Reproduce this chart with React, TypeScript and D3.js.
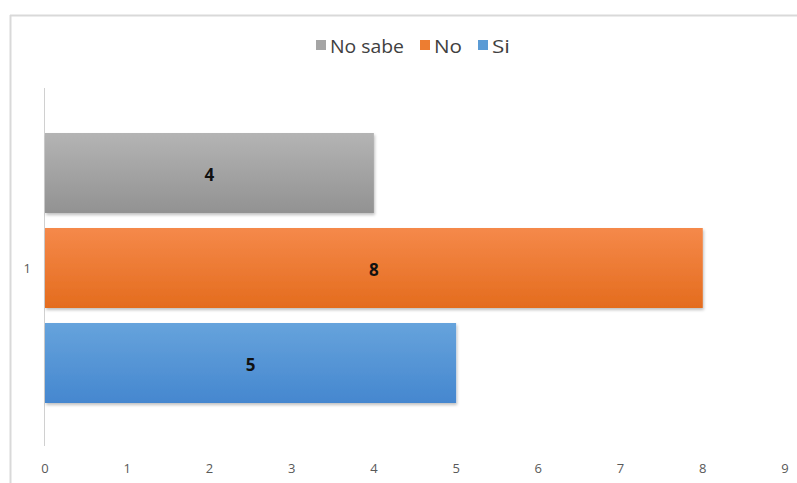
import React from "react";
import * as d3 from "d3";

const categories = ["1"];
const seriesNames = ["No sabe", "No", "Si"];
const seriesValues = [4, 8, 5];
const xTicks = [0, 1, 2, 3, 4, 5, 6, 7, 8, 9];
const legendOrder = ["No sabe", "No", "Si"];

const colors: Record<string, [string, string]> = {
  "No sabe": ["#b4b4b4", "#929292"],
  No: ["#f5894a", "#e46c1e"],
  Si: ["#66a3dc", "#4587cf"],
};
const swatch: Record<string, string> = {
  "No sabe": "#a5a5a5",
  No: "#ed7d31",
  Si: "#5b9bd5",
};

export default function App() {
  const W = 797,
    H = 483;
  const x = d3.scaleLinear().domain([0, 9]).range([45, 785]);
  const yCat = d3.scaleBand().domain(categories).range([88, 448]);
  const catCenter = (yCat("1") as number) + yCat.bandwidth() / 2;
  const ySer = d3
    .scaleBand()
    .domain(seriesNames)
    .range([catCenter - 135, catCenter + 135])
    .paddingInner(0.158);

  const legendX: Record<string, number> = { "No sabe": 316, No: 420, Si: 478 };

  return (
    <svg
      width={W}
      height={H}
      style={{ position: "absolute", left: 0, top: 0, background: "#fff" }}
      fontFamily="'Open Sans', 'Liberation Sans', sans-serif"
    >
      <defs>
        {seriesNames.map((s, i) => (
          <linearGradient key={s} id={`g${i}`} x1="0" y1="0" x2="0" y2="1">
            <stop offset="0%" stopColor={colors[s][0]} />
            <stop offset="100%" stopColor={colors[s][1]} />
          </linearGradient>
        ))}
        <filter id="sh" x="-5%" y="-10%" width="110%" height="130%">
          <feDropShadow dx="1" dy="2" stdDeviation="1.5" floodColor="#000" floodOpacity="0.25" />
        </filter>
      </defs>
      <rect x={0} y={0} width={W} height={H} fill="#fff" />
      {/* chart border */}
      <line x1={10} y1={15.5} x2={W} y2={15.5} stroke="#d9d9d9" strokeWidth={2} />
      <line x1={10.5} y1={15} x2={10.5} y2={H} stroke="#d9d9d9" strokeWidth={2} />

      {/* legend */}
      {legendOrder.map((s) => (
        <g key={s}>
          <rect x={legendX[s]} y={40} width={10} height={10} fill={swatch[s]} />
          <text
            x={legendX[s] + 14}
            y={53}
            fontSize={19}
            fill="#404040"
            textLength={s === "No sabe" ? 74 : s === "No" ? 28 : 18}
            lengthAdjust="spacingAndGlyphs"
          >
            {s}
          </text>
        </g>
      ))}

      {/* y axis line */}
      <line x1={44.5} y1={88} x2={44.5} y2={446} stroke="#d0d0d0" strokeWidth={1} />

      {/* bars */}
      {seriesNames.map((s, i) => (
        <rect
          key={s}
          x={x(0)}
          y={ySer(s) as number}
          width={x(seriesValues[i]) - x(0)}
          height={ySer.bandwidth()}
          fill={`url(#g${i})`}
          filter="url(#sh)"
        />
      ))}
      {seriesNames.map((s, i) => (
        <text
          key={s + "l"}
          x={(x(0) + x(seriesValues[i])) / 2}
          y={(ySer(s) as number) + ySer.bandwidth() / 2 + 8}
          textAnchor="middle"
          fontSize={17}
          fontWeight="bold"
          fill="#111"
        >
          {seriesValues[i]}
        </text>
      ))}

      {/* category label */}
      {categories.map((c) => (
        <text
          key={c}
          x={31}
          y={catCenter + 5}
          textAnchor="end"
          fontSize={13}
          fill="#595959"
        >
          {c}
        </text>
      ))}

      {/* x tick labels */}
      {xTicks.map((t) => (
        <text key={t} x={x(t)} y={473} textAnchor="middle" fontSize={13} fill="#595959">
          {t}
        </text>
      ))}
    </svg>
  );
}
